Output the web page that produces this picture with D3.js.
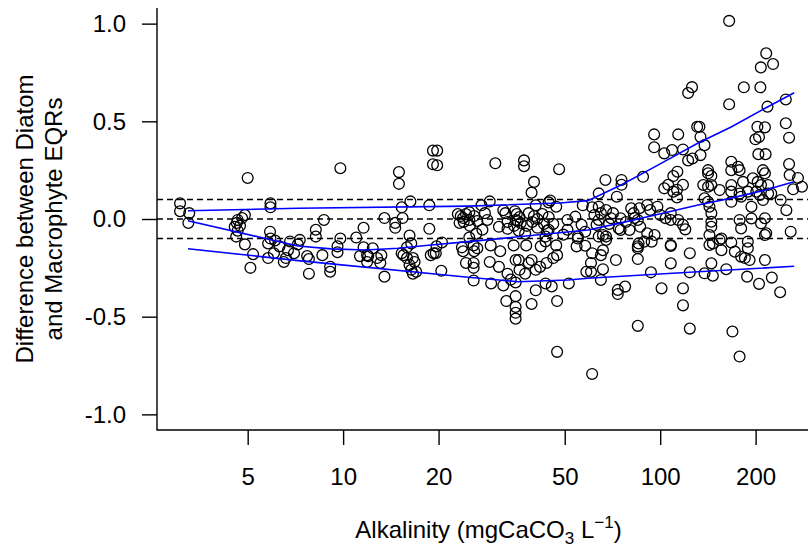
<!DOCTYPE html>
<html>
<head>
<meta charset="utf-8">
<script src="https://cdn.jsdelivr.net/npm/d3@7"></script>
<style>
body { margin: 0; background: #fff; }
text { font-family: Arial, "Liberation Sans", sans-serif; }
</style>
</head>
<body>
<script>
// alkalinity (mgCaCO3/L) of each site, and Diatom EQR minus Macrophyte EQR
var alkalinity = [
	3.06, 3.06, 3.27, 3.25, 5.0, 4.9, 4.65, 4.55, 4.73, 4.65, 4.6, 4.9, 5.2, 5.1, 4.8, 4.62,
	5.9, 5.9, 5.88, 5.9, 6.1, 5.8, 6.3, 6.8, 6.7, 6.05, 7.0, 5.8, 6.5, 6.6, 7.3, 7.2,
	7.7, 7.8, 7.8, 8.2, 8.2, 8.6, 8.7, 9.1, 9.1, 9.6, 9.6, 9.8, 9.8,
	11.0, 11.3, 11.6, 11.6, 11.9, 11.9, 12.0, 12.4, 12.8, 13.1, 13.2, 13.5, 13.5, 14.6, 14.6, 15.0, 15.0,
	15.3, 15.4, 15.3, 15.5, 15.9, 15.9, 16.2, 16.4, 16.3, 16.6, 16.8, 16.2, 16.4, 16.6, 17.0, 18.7, 18.7, 18.9,
	19.2, 19.8, 19.2, 19.8, 19.3, 19.6, 19.7, 20.5, 20.4, 23.5, 23.9, 23.3, 24.0, 23.7, 23.9, 24.4, 23.0, 24.4, 25.0,
	30.2, 37.2, 37.2, 48, 40, 39.3, 29, 27.3, 32.0, 32.5, 45, 44.5, 47, 40.5, 57,
	34.8, 35.3, 36, 38.5, 40, 41, 42.5, 35, 36.3, 38, 39.5, 41, 43, 44, 35.8, 37.5, 34.6, 43.5,
	25, 25.9, 26.5, 25.1, 27.5, 26.3, 25, 28, 28.5, 31, 33, 35.5, 33,
	44.5, 46, 44.5, 51, 51, 54, 56.5, 49.5, 55, 58,
	25.8, 29.2, 34.5, 37.8, 43.5, 55, 25.9, 26.5, 31.3, 25.8, 25.8, 25.8, 31, 33, 35, 35.8, 38.5, 39.3,
	41.8, 43.8, 46, 47.3, 36, 37.5, 40.5, 42, 47, 54.5, 58.5, 32, 33.8, 35, 40.5, 45.5, 43.5, 51.5,
	35, 32.7, 39.3, 47.3, 35, 35, 35, 47.3, 29, 29.3,
	95.7, 114, 95.7, 103, 109, 118, 122.5, 126.4, 130.8, 67.2, 75.5, 75.5, 88.3, 113.3, 110, 103, 106, 110, 113, 118, 113,
	64, 73, 61, 64, 65, 67.5, 71, 75, 81, 82.5, 86, 91, 93, 98, 100, 108, 104, 108, 114, 118, 120,
	64, 70, 74, 75, 85, 86.5, 64, 66, 67.5, 91, 96, 85, 89, 108, 58, 60.5, 60.5, 61, 65, 66, 67.5, 85.5, 94,
	61, 85, 124, 118, 118, 101, 73.5, 73.5, 77.5, 65, 93.5, 124, 108, 124, 108, 85, 85, 72.5, 66,
	62, 63, 69, 78, 80, 83, 122.5, 126,
	165, 216, 227, 207.7, 183.6, 207, 165, 218, 249, 249, 255, 202.6, 214, 199.7, 205, 204, 215, 255, 167.6, 176,
	133, 134, 138, 134, 141.6, 211, 256, 262.6, 141.6, 145, 167.6, 178, 214, 182.5, 196, 203, 208, 219, 224,
	136.7, 141.6, 145, 154, 167.6, 167.6, 178, 189, 201, 206, 211, 219, 138, 141.6, 143, 145, 167.6, 180, 194,
	194, 178, 180, 208, 214, 214, 216, 145, 145, 143, 143, 146.6, 154, 156, 156, 167.6, 172, 180, 185,
	189, 189, 191.4, 214, 145, 138, 146.6, 161.6, 188, 205, 225, 239, 169, 178, 272, 280, 250, 258, 240
];
var eqrDiff = [
	0.08, 0.04, 0.03, -0.02, 0.21, 0.02, -0.005, -0.04, -0.035, -0.06, -0.09, -0.13, -0.18, -0.25, 0.005, -0.02,
	0.08, 0.06, -0.065, -0.10, -0.11, -0.125, -0.14, -0.115, -0.16, -0.175, -0.175, -0.20, -0.22, -0.20, -0.107, -0.13,
	-0.19, -0.205, -0.28, -0.055, -0.09, -0.185, -0.005, -0.245, -0.27, -0.17, -0.14, -0.10, 0.26,
	-0.095, -0.19, -0.145, -0.045, -0.185, -0.22, -0.19, -0.15, -0.20, -0.225, -0.185, -0.295, 0.005, -0.02, -0.045, 0.24, 0.18,
	0.06, 0.005, -0.175, -0.185, -0.20, -0.145, -0.085, -0.125, 0.09, -0.20, -0.22, -0.235, -0.26, -0.28, -0.27, 0.07, -0.05, -0.185,
	0.35, 0.35, 0.28, 0.275, -0.175, -0.175, -0.14, -0.12, -0.265, 0.015, 0.005, -0.02, -0.015, -0.145, -0.165, -0.225, 0.025, 0.025, -0.005,
	0.285, 0.30, 0.27, 0.255, 0.19, 0.135, 0.09, 0.07, 0.045, 0.03, 0.095, 0.085, 0.063, 0.07, 0.07,
	0.04, 0.025, 0.01, 0.03, 0.015, 0, 0.025, -0.005, -0.02, -0.035, -0.015, -0.045, -0.025, -0.06, -0.06, -0.075, -0.035, -0.09,
	0.035, 0.015, -0.01, -0.035, -0.055, -0.075, -0.095, 0.03, -0.005, -0.04, -0.015, -0.01, -0.05,
	0.01, -0.025, -0.055, -0.005, -0.055, 0.012, -0.03, -0.08, -0.1, -0.065,
	-0.135, -0.135, -0.135, -0.135, -0.115, -0.09, -0.165, -0.15, -0.165, -0.225, -0.25, -0.315, -0.245, -0.28, -0.21, -0.21, -0.225, -0.21,
	-0.245, -0.225, -0.20, -0.185, -0.26, -0.28, -0.26, -0.14, -0.135, -0.14, -0.27, -0.34, -0.31, -0.325, -0.365, -0.345, -0.33, -0.33,
	-0.395, -0.42, -0.435, -0.42, -0.45, -0.48, -0.51, -0.68, -0.22, -0.33,
	0.433, 0.433, 0.367, 0.336, 0.353, 0.356, 0.30, 0.31, 0.472, 0.2, 0.2, 0.175, 0.216, 0.242, 0.22, 0.157, 0.175, 0.14, 0.15, 0.175, 0.11,
	0.131, 0.114, 0.06, 0.063, 0.03, 0.046, 0.03, 0.004, 0.055, 0.03, 0.055, 0.072, 0.046, 0.063, 0.02, 0.03, 0.004, -0.005, -0.005, -0.03, -0.053,
	-0.005, 0.004, -0.048, -0.056, -0.005, -0.04, -0.09, -0.082, -0.09, -0.073, -0.082, -0.14, -0.116, -0.133, -0.137, -0.27, -0.225, -0.175, -0.185, -0.16, -0.107, -0.125, -0.116,
	-0.793, -0.547, -0.561, -0.442, -0.355, -0.355, -0.384, -0.363, -0.346, -0.312, -0.273, -0.273, -0.227, -0.175, -0.138, -0.205, -0.15, -0.21, -0.257,
	0.02, -0.03, -0.025, -0.015, -0.056, 0.005, 0.645, 0.675,
	1.014, 0.848, 0.793, 0.776, 0.674, 0.674, 0.587, 0.575, 0.612, 0.49, 0.416, 0.472, 0.469, 0.408, 0.42, 0.332, 0.332, 0.281, 0.293, 0.267,
	0.472, 0.42, 0.378, 0.327, 0.25, 0.25, 0.225, 0.152, 0.234, 0.22, 0.25, 0.25, 0.234, 0.19, 0.208, 0.19, 0.174, 0.174, 0.13,
	0.174, 0.165, 0.174, 0.148, 0.174, 0.14, 0.13, 0.14, 0.14, 0.123, 0.097, 0.13, 0.106, 0.088, 0.063, 0.03, 0.088, 0.114, 0.063,
	0.003, -0.005, -0.048, -0.022, 0.004, -0.082, -0.073, -0.014, -0.04, -0.082, -0.133, -0.125, -0.107, -0.1, -0.16, -0.12, -0.167, -0.193, -0.2,
	-0.116, -0.15, -0.21, -0.21, -0.227, -0.278, -0.29, -0.257, -0.295, -0.332, -0.30, -0.375, -0.576, -0.704, 0.21, 0.165, 0.045, -0.065, 0.097
];

// fitted quantile lines (upper, middle, lower)
var upperAlk = [3.24, 7.21, 24.8, 48.3, 59.2, 75.3, 96.4, 131.7, 167.4, 214.3, 264.6];
var upperDiff = [0.042, 0.055, 0.066, 0.082, 0.094, 0.174, 0.268, 0.389, 0.471, 0.567, 0.646];
var midAlk = [3.24, 7.21, 9.16, 11.73, 14.9, 18.94, 24.8, 59.2, 75.3, 96.4, 131.7, 167.4, 214.3, 264.6];
var midDiff = [-0.009, -0.138, -0.153, -0.159, -0.150, -0.133, -0.116, -0.056, -0.020, 0.020, 0.072, 0.107, 0.148, 0.191];
var lowerAlk = [3.24, 7.21, 24.8, 35.6, 51.2, 59.2, 131.7, 264.6];
var lowerDiff = [-0.152, -0.213, -0.298, -0.321, -0.312, -0.303, -0.270, -0.242];

var xTicks = [5, 10, 20, 50, 100, 200];
var yTicks = [-1.0, -0.5, 0.0, 0.5, 1.0];
var refLines = [0.1, 0, -0.1];

var width = 808, height = 547;
// plot region (R style, the right edge runs past the picture)
var plotL = 157, plotR = 820, plotT = 8, plotB = 430;

var xScale = d3.scaleLog()
	.domain([2.588, 319.2])
	.range([plotL, plotR]);

var yScale = d3.scaleLinear()
	.domain([-1.08, 1.08])
	.range([plotB, plotT]);

var svg = d3.select('body').append('svg')
	.attr('width', width)
	.attr('height', height)
	.style('background-color', '#fff');

svg.append('clipPath').attr('id', 'plotclip')
	.append('rect')
	.attr('x', plotL).attr('y', plotT)
	.attr('width', plotR - plotL).attr('height', plotB - plotT);

var plot = svg.append('g').attr('clip-path', 'url(#plotclip)');

// dashed reference lines at +/-0.1 and 0
plot.selectAll('line.ref')
	.data(refLines)
	.enter().append('line')
		.attr('x1', plotL).attr('x2', plotR)
		.attr('y1', function(d){ return yScale(d) })
		.attr('y2', function(d){ return yScale(d) })
		.attr('stroke', '#000')
		.attr('stroke-width', 1.4)
		.attr('stroke-dasharray', '6,4');

// points
plot.selectAll('circle')
	.data(d3.range(alkalinity.length))
	.enter().append('circle')
		.attr('cx', function(i){ return xScale(alkalinity[i]) })
		.attr('cy', function(i){ return yScale(eqrDiff[i]) })
		.attr('r', 5.4)
		.attr('fill', 'none')
		.attr('stroke', '#000')
		.attr('stroke-width', 1.3);

// quantile lines
var line = d3.line()
	.x(function(d){ return xScale(d[0]) })
	.y(function(d){ return yScale(d[1]) });

[[upperAlk, upperDiff], [midAlk, midDiff], [lowerAlk, lowerDiff]].forEach(function(q){
	plot.append('path')
		.datum(d3.zip(q[0], q[1]))
		.attr('d', line)
		.attr('fill', 'none')
		.attr('stroke', '#0000ff')
		.attr('stroke-width', 1.6);
});

// L shaped box
svg.append('path')
	.attr('d', 'M' + plotL + ',' + plotT + 'V' + plotB + 'H' + width)
	.attr('fill', 'none')
	.attr('stroke', '#000')
	.attr('stroke-width', 1.4);

var xAxis = svg.append('g')
	.attr('transform', 'translate(0,' + plotB + ')')
	.call(d3.axisBottom(xScale).tickValues(xTicks).tickFormat(d3.format('d')).tickSize(15).tickPadding(23));
xAxis.select('.domain').remove();

// R prints a plain hyphen for negatives
var yFmt = function(d){ return d3.format('.1f')(d).replace('\u2212', '-') };

var yAxis = svg.append('g')
	.attr('transform', 'translate(' + plotL + ',0)')
	.call(d3.axisLeft(yScale).tickValues(yTicks).tickFormat(yFmt).tickSize(15).tickPadding(16));
yAxis.select('.domain').remove();

svg.selectAll('.tick line').attr('stroke', '#000').attr('stroke-width', 1.4);
svg.selectAll('.tick text')
	.attr('fill', '#000')
	.style('font-size', '24px')
	.style('font-family', 'Arial, "Liberation Sans", sans-serif');

// axis titles
var xt = svg.append('text')
	.attr('x', (plotL + plotR) / 2)
	.attr('y', 538)
	.attr('text-anchor', 'middle')
	.style('font-size', '24px');
xt.append('tspan').text('Alkalinity (mgCaCO');
xt.append('tspan').attr('dy', 6).style('font-size', '17px').text('3');
xt.append('tspan').attr('dy', -6).text(' L');
xt.append('tspan').attr('dy', -10).style('font-size', '17px').text('\u22121');
xt.append('tspan').attr('dy', 10).text(')');

svg.append('text')
	.attr('transform', 'translate(33,' + (plotT + plotB) / 2 + ') rotate(-90)')
	.attr('text-anchor', 'middle')
	.style('font-size', '24px')
	.text('Difference between Diatom');

svg.append('text')
	.attr('transform', 'translate(62,' + (plotT + plotB) / 2 + ') rotate(-90)')
	.attr('text-anchor', 'middle')
	.style('font-size', '24px')
	.text('and Macrophyte EQRs');
</script>
</body>
</html>
